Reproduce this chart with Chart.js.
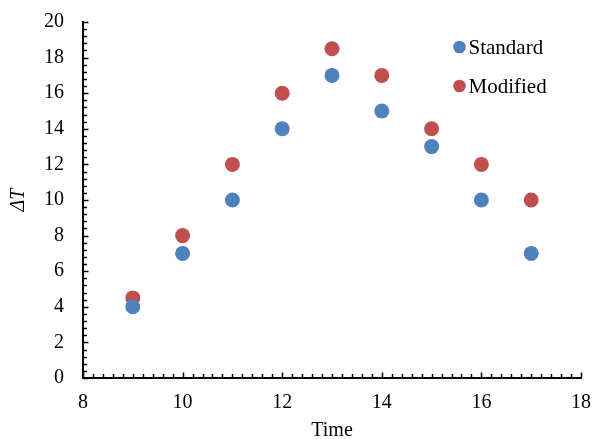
<!DOCTYPE html>
<html>
<head>
<meta charset="utf-8">
<script src="https://cdn.jsdelivr.net/npm/chart.js@4.4.0/dist/chart.umd.min.js"></script>
<style>
  html, body { margin: 0; padding: 0; background: #fff; }
  #wrap { width: 594px; height: 439px; position: relative; }
</style>
</head>
<body>
<div id="wrap"><canvas id="c" width="594" height="439"></canvas></div>
<script>
const times = [9, 10, 11, 12, 13, 14, 15, 16, 17];
const standard = [4, 7, 10, 14, 17, 15, 13, 10, 7];
const modified = [4.5, 8, 12, 16, 18.5, 17, 14, 12, 10];
const seriesNames = ['Standard', 'Modified'];
const xTicks = [8, 10, 12, 14, 16, 18];
const yTicks = [0, 2, 4, 6, 8, 10, 12, 14, 16, 18, 20];

const FONT = "'Liberation Serif', 'Times New Roman', serif";
const BLUE = '#4F81BD';
const RED = '#C0504D';

const minorTicks = {
  id: 'minorTicks',
  afterDraw(chart) {
    const ctx = chart.ctx;
    const xs = chart.scales.x, ys = chart.scales.y;
    const area = chart.chartArea;
    ctx.save();
    ctx.strokeStyle = '#000';
    ctx.lineWidth = 1.5;
    ctx.beginPath();
    for (let i = 0; i <= 50; i++) {
      const v = 8 + i * 0.2;
      const px = Math.round(xs.getPixelForValue(v)) + 0.5;
      const len = (i % 10 === 0) ? 5.5 : 4;
      ctx.moveTo(px, area.bottom);
      ctx.lineTo(px, area.bottom - len);
    }
    for (let i = 0; i <= 50; i++) {
      const v = i * 0.4;
      const py = Math.round(ys.getPixelForValue(v)) + 0.5;
      const len = (i % 5 === 0) ? 5.5 : 4;
      ctx.moveTo(area.left, py);
      ctx.lineTo(area.left + len, py);
    }
    ctx.stroke();
    ctx.restore();
  }
};

const customLegend = {
  id: 'customLegend',
  afterDraw(chart) {
    const ctx = chart.ctx;
    ctx.save();
    ctx.font = '21px ' + FONT;
    ctx.textBaseline = 'alphabetic';
    ctx.textAlign = 'left';
    const x0 = 459.5;
    const dotY = [47, 86];
    chart.data.datasets.forEach((ds, i) => {
      ctx.fillStyle = ds.backgroundColor;
      ctx.beginPath();
      ctx.arc(x0, dotY[i], 6.3, 0, Math.PI * 2);
      ctx.fill();
      ctx.fillStyle = '#000';
      ctx.fillText(ds.label, 468.5, dotY[i] + 6.5);
    });
    ctx.restore();
  }
};

new Chart(document.getElementById('c'), {
  type: 'scatter',
  data: {
    datasets: [
      {
        label: seriesNames[0],
        data: times.map((t, i) => ({ x: t, y: standard[i] })),
        backgroundColor: BLUE,
        borderColor: BLUE,
        pointRadius: 7.5,
        pointBorderWidth: 0
      },
      {
        label: seriesNames[1],
        data: times.map((t, i) => ({ x: t, y: modified[i] })),
        backgroundColor: RED,
        borderColor: RED,
        pointRadius: 7.5,
        pointBorderWidth: 0
      }
    ]
  },
  options: {
    responsive: false,
    animation: false,
    layout: { padding: { left: 0, right: 13, top: 22, bottom: 0 } },
    plugins: {
      legend: { display: false },
      tooltip: { enabled: false }
    },
    scales: {
      x: {
        type: 'linear',
        min: 8, max: 18,
        afterBuildTicks(scale) { scale.ticks = xTicks.map(v => ({ value: v })); },
        afterFit(scale) { scale.height = 61; scale.paddingLeft = 0; scale.paddingRight = 0; },
        grid: { display: false, drawTicks: false, tickLength: 0 },
        border: { display: true, color: '#000', width: 2 },
        ticks: { color: '#000', font: { family: FONT, size: 20 }, padding: 13, maxRotation: 0 },
        title: { display: true, text: 'Time', color: '#000', font: { family: FONT, size: 20, lineHeight: 0.8 }, padding: { top: 0, bottom: 0 } }
      },
      y: {
        type: 'linear',
        min: 0, max: 20,
        afterBuildTicks(scale) { scale.ticks = yTicks.map(v => ({ value: v })); },
        afterFit(scale) { scale.width = 83; scale.paddingTop = 0; scale.paddingBottom = 0; },
        grid: { display: false, drawTicks: false, tickLength: 0 },
        border: { display: true, color: '#000', width: 2 },
        ticks: { color: '#000', font: { family: FONT, size: 20 }, padding: 19 },
        title: { display: true, text: 'ΔT', color: '#000', font: { family: FONT, size: 20, style: 'italic', lineHeight: 1.2 }, padding: { top: 7, bottom: 0 } }
      }
    }
  },
  plugins: [minorTicks, customLegend]
});
</script>
</body>
</html>
